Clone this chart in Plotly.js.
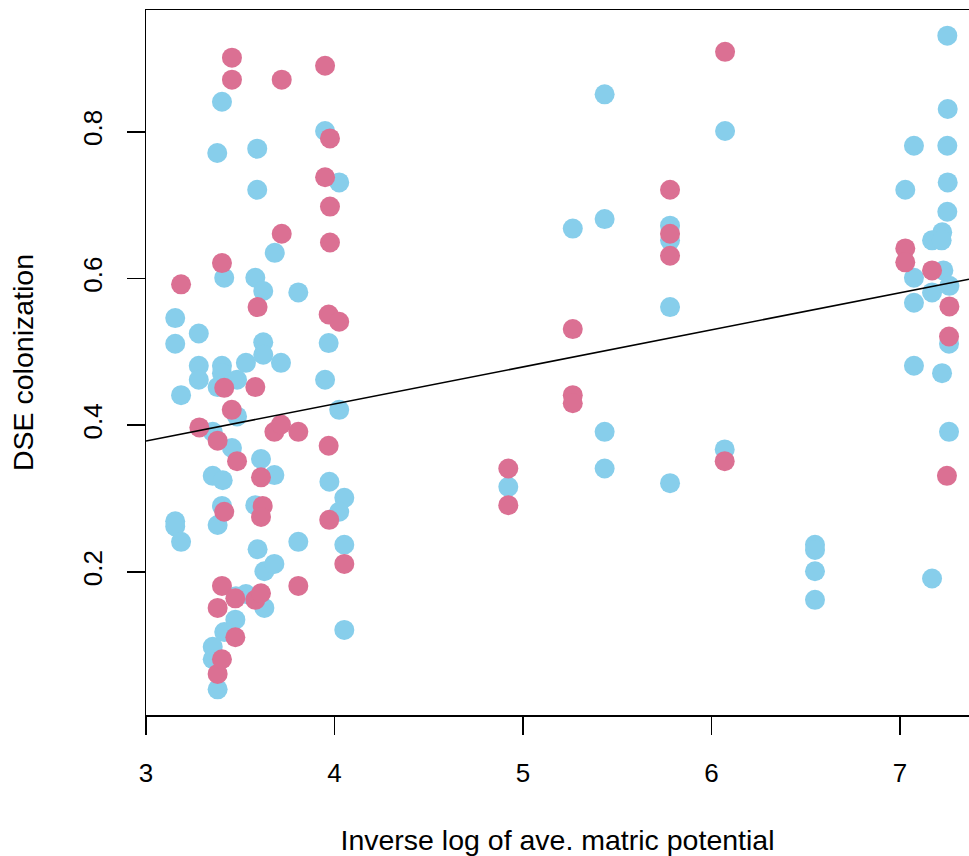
<!DOCTYPE html>
<html>
<head>
<meta charset="utf-8">
<script src="https://cdn.plot.ly/plotly-3.0.1.min.js"></script>
<style>
  html, body { margin: 0; padding: 0; background: #fff; }
  #chart { width: 969px; height: 856px; }
</style>
</head>
<body>
<div id="chart"></div>
<script>
// ---- Data ----
// Blue group (sky blue)
var blueX = [3.155, 3.155, 3.155, 3.155, 3.186, 3.186, 3.28, 3.28, 3.28, 3.354, 3.354, 3.354, 3.354,
  3.378, 3.38, 3.38, 3.38, 3.403, 3.415, 3.403, 3.403, 3.407, 3.403, 3.415, 3.456, 3.483, 3.483, 3.477,
  3.474, 3.53, 3.53, 3.58, 3.58, 3.59, 3.59, 3.592, 3.61, 3.622, 3.622, 3.622, 3.628, 3.628, 3.683,
  3.681, 3.681, 3.716, 3.808, 3.808, 3.95, 4.025, 3.969, 3.95, 4.025, 3.973, 4.052, 4.025, 4.052, 4.052,
  4.922, 5.264, 5.433, 5.433, 5.433, 5.433, 5.78, 5.78, 5.78, 5.78, 6.072, 6.07,
  6.549, 6.549, 6.549, 6.549,
  7.251, 7.253, 7.074, 7.251, 7.253, 7.028, 7.251, 7.224, 7.17, 7.221, 7.074, 7.23, 7.262, 7.17, 7.074,
  7.26, 7.074, 7.223, 7.26, 7.17];
var blueY = [0.546, 0.511, 0.269, 0.262, 0.441, 0.241, 0.525, 0.481, 0.462, 0.391, 0.331, 0.098, 0.081,
  0.771, 0.452, 0.264, 0.040, 0.841, 0.601, 0.481, 0.471, 0.325, 0.290, 0.118, 0.369, 0.462, 0.412, 0.167,
  0.135, 0.485, 0.170, 0.601, 0.291, 0.777, 0.721, 0.231, 0.354, 0.583, 0.513, 0.496, 0.201, 0.151, 0.635,
  0.332, 0.211, 0.485, 0.581, 0.241, 0.801, 0.731, 0.512, 0.462, 0.421, 0.323, 0.301, 0.282, 0.237, 0.121,
  0.316, 0.668, 0.851, 0.681, 0.391, 0.341, 0.672, 0.652, 0.561, 0.321, 0.801, 0.367,
  0.237, 0.230, 0.201, 0.162,
  0.931, 0.831, 0.781, 0.781, 0.731, 0.721, 0.691, 0.663, 0.652, 0.652, 0.601, 0.611, 0.590, 0.581, 0.567,
  0.511, 0.481, 0.471, 0.391, 0.191];

// Pink group (pale violet red)
var pinkX = [3.186, 3.283, 3.38, 3.38, 3.38, 3.403, 3.415, 3.415, 3.403, 3.403, 3.456, 3.456, 3.455,
  3.483, 3.474, 3.474, 3.58, 3.58, 3.592, 3.61, 3.619, 3.61, 3.61, 3.681, 3.72, 3.72, 3.716, 3.808, 3.808,
  3.95, 3.976, 3.95, 3.976, 3.976, 3.969, 4.025, 3.969, 3.972, 4.052,
  4.922, 4.922, 5.264, 5.264, 5.264, 5.78, 5.78, 5.78, 6.072, 6.07,
  7.028, 7.028, 7.17, 7.262, 7.26, 7.249];
var pinkY = [0.592, 0.397, 0.379, 0.151, 0.061, 0.621, 0.451, 0.282, 0.181, 0.081, 0.901, 0.871, 0.421,
  0.351, 0.164, 0.111, 0.452, 0.162, 0.561, 0.329, 0.290, 0.275, 0.171, 0.391, 0.871, 0.661, 0.401, 0.391, 0.181,
  0.890, 0.791, 0.738, 0.698, 0.649, 0.551, 0.541, 0.372, 0.271, 0.211,
  0.341, 0.291, 0.531, 0.441, 0.430, 0.721, 0.661, 0.631, 0.909, 0.351,
  0.641, 0.622, 0.611, 0.562, 0.521, 0.331];

// Fitted regression line coefficients
var fitIntercept = 0.227;
var fitSlope = 0.0505;

// Axis ticks
var xTickVals = [3, 4, 5, 6, 7];
var yTickVals = [0.2, 0.4, 0.6, 0.8];
var yTickText = ["0.2", "0.4", "0.6", "0.8"];

// ---- Chart ----
var xRange = [3, 7.366];
var yRange = [0.005, 0.966];

var fitX = xRange.slice();
var fitY = fitX.map(function (x) { return fitIntercept + fitSlope * x; });

var traces = [
  {
    x: blueX, y: blueY, type: 'scatter', mode: 'markers', name: 'blue',
    marker: { color: '#87CEEB', size: 20, line: { width: 0 } },
    hoverinfo: 'x+y', cliponaxis: true
  },
  {
    x: pinkX, y: pinkY, type: 'scatter', mode: 'markers', name: 'pink',
    marker: { color: '#DB7093', size: 20, line: { width: 0 } },
    hoverinfo: 'x+y', cliponaxis: true
  },
  {
    x: fitX, y: fitY, type: 'scatter', mode: 'lines', name: 'fit',
    line: { color: '#000000', width: 1.6 }, hoverinfo: 'skip'
  }
];

var fam = 'Liberation Sans, Arial, Helvetica, sans-serif';

var layout = {
  width: 969, height: 856,
  margin: { l: 146, r: 0, t: 10, b: 141 },
  paper_bgcolor: '#ffffff', plot_bgcolor: '#ffffff',
  showlegend: false,
  font: { family: fam, color: '#000000', size: 26 },
  xaxis: {
    range: xRange, autorange: false,
    tickmode: 'array', tickvals: xTickVals, ticktext: xTickVals.map(String),
    ticks: 'outside', ticklen: 18, tickwidth: 1.5, tickcolor: '#000',
    ticklabelstandoff: 16,
    showline: true, linecolor: '#000', linewidth: 1.5, mirror: true,
    showgrid: false, zeroline: false,
    tickfont: { family: fam, size: 26, color: '#000' },
    title: { text: 'Inverse log of ave. matric potential', font: { family: fam, size: 28.5, color: '#000' }, standoff: 46 }
  },
  yaxis: {
    range: yRange, autorange: false,
    tickmode: 'array', tickvals: yTickVals, ticktext: yTickText,
    ticks: 'outside', ticklen: 18, tickwidth: 1.5, tickcolor: '#000',
    ticklabelstandoff: 14,
    tickangle: -90,
    showline: true, linecolor: '#000', linewidth: 1.5, mirror: false,
    showgrid: false, zeroline: false,
    tickfont: { family: fam, size: 26, color: '#000' },
    title: { text: 'DSE colonization', font: { family: fam, size: 28.5, color: '#000' }, standoff: 36 }
  }
};

Plotly.newPlot('chart', traces, layout, { staticPlot: true, displayModeBar: false });
</script>
</body>
</html>
